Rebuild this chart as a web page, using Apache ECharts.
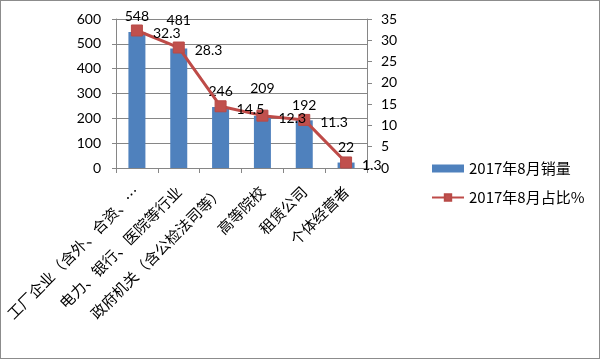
<!DOCTYPE html>
<html><head><meta charset="utf-8">
<script src="https://cdn.jsdelivr.net/npm/echarts@6/dist/echarts.min.js"></script>
<style>html,body{margin:0;padding:0;background:#fff}#c{width:600px;height:359px;box-sizing:border-box;border:1px solid #8c8c8c}</style>
</head><body><div id="c"></div>
<script>
var categories = ['工厂企业（含外、合资、…', '电力、银行、医院等行业', '政府机关（含公检法司等）', '高等院校', '租赁公司', '个体经营者'];
var salesName = '2017年8月销量';
var shareName = '2017年8月占比%';
var sales = [548, 481, 246, 209, 192, 22];
var share = [32.3, 28.3, 14.5, 12.3, 11.3, 1.3];

var chart = echarts.init(document.getElementById('c'));
var numFont = 'Lato, "Open Sans", sans-serif';
var cjkFont = '"Noto Sans CJK SC", sans-serif';
// Excel nudged two bar labels upward to avoid overlapping the line labels
var liftedLabels = {1: true, 3: true};
chart.setOption({
  animation: false,
  backgroundColor: '#fff',
  grid: {left: 115, right: 232, top: 18, bottom: 190, containLabel: false},
  legend: {
    orient: 'vertical', left: 425, top: 155, itemGap: 14, itemWidth: 32, itemHeight: 8,
    textStyle: {fontFamily: cjkFont, fontSize: 15, color: '#000'},
    data: [{name: salesName, icon: 'rect'}, {name: shareName}]
  },
  xAxis: {
    type: 'category', data: categories,
    axisLine: {lineStyle: {color: '#868686'}},
    axisTick: {show: true, length: 5, lineStyle: {color: '#868686'}},
    axisLabel: {rotate: 45, interval: 0, margin: 21, color: '#000', fontSize: 15, fontFamily: cjkFont}
  },
  yAxis: [{
    type: 'value', min: 0, max: 600, interval: 100,
    axisLine: {show: true, lineStyle: {color: '#868686'}},
    axisTick: {show: true, length: 4, lineStyle: {color: '#868686'}},
    axisLabel: {color: '#000', fontSize: 14, fontFamily: numFont, margin: 15},
    splitLine: {lineStyle: {color: '#868686'}}
  }, {
    type: 'value', min: 0, max: 35, interval: 5,
    axisLine: {show: true, lineStyle: {color: '#868686'}},
    axisTick: {show: true, length: 5, lineStyle: {color: '#868686'}},
    axisLabel: {color: '#000', fontSize: 14, fontFamily: numFont, margin: 14},
    splitLine: {show: false}
  }],
  series: [{
    name: salesName, type: 'bar', barWidth: 17,
    data: sales.map(function (v, i) {
      return liftedLabels[i] ? {value: v, label: {distance: 21}} : v;
    }),
    itemStyle: {color: '#4F81BD'},
    label: {show: true, position: 'top', distance: 8, color: '#000', fontSize: 14, fontFamily: numFont}
  }, {
    name: shareName, type: 'line', yAxisIndex: 1, data: share,
    lineStyle: {color: '#BE4B48', width: 3},
    itemStyle: {color: '#C0504D', borderColor: '#B84A47', borderWidth: 1},
    symbol: 'rect', symbolSize: 11,
    label: {show: true, position: 'right', distance: 10, offset: [0, 3], color: '#000', fontSize: 14, fontFamily: numFont}
  }]
});
</script></body></html>
